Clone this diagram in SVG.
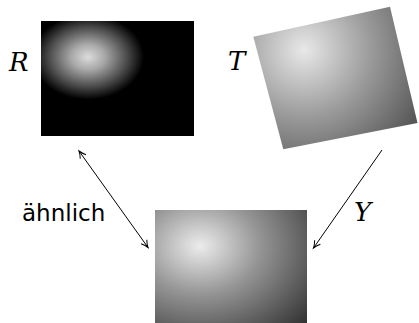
<svg xmlns="http://www.w3.org/2000/svg" width="419" height="323" viewBox="0 0 419 323">
<style>
.math{font-family:'DejaVu Serif',serif;font-style:italic;font-size:26px;fill:#000}
.txt{font-family:'DejaVu Sans',sans-serif;font-size:23px;fill:#000}
.conn{stroke:#000;stroke-width:1;fill:none}
</style>
<defs>
<marker id="ah" viewBox="-8 -5 10 10" refX="0" refY="0" markerWidth="10" markerHeight="10" markerUnits="userSpaceOnUse" orient="auto-start-reverse">
<path d="M -7 -3.5 Q -3 -0.8 0 0 Q -3 0.8 -7 3.5" stroke="#000" stroke-width="1" fill="none"/>
</marker>
<radialGradient id="gR" gradientUnits="userSpaceOnUse" cx="88" cy="57" r="56" gradientTransform="translate(88 57) scale(1 0.76) translate(-88 -57)">
<stop offset="0" stop-color="#dcdcdc"/>
<stop offset="0.3" stop-color="#a8a8a8"/>
<stop offset="0.7" stop-color="#4a4a4a"/>
<stop offset="1" stop-color="#000"/>
</radialGradient>
<radialGradient id="gT" gradientUnits="userSpaceOnUse" cx="304" cy="50" r="150">
<stop offset="0" stop-color="#e8e8e8"/>
<stop offset="0.45" stop-color="#9a9a9a"/>
<stop offset="1" stop-color="#444"/>
</radialGradient>
<radialGradient id="gY" gradientUnits="userSpaceOnUse" cx="200" cy="246" r="150" gradientTransform="translate(200 246) scale(1 0.8) translate(-200 -246)">
<stop offset="0" stop-color="#ececec"/>
<stop offset="0.4" stop-color="#959595"/>
<stop offset="1" stop-color="#2a2a2a"/>
</radialGradient>
</defs>
<g id="nodeR">
<rect x="41" y="21" width="153" height="115" fill="#000"/>
<rect x="41" y="21" width="153" height="115" fill="url(#gR)"/>
<text class="math" x="9" y="71">R</text>
</g>
<g id="nodeT">
<polygon points="253.3,36.7 390,6.7 417.5,123 283.3,149.3" fill="url(#gT)"/>
<text class="math" x="228" y="70">T</text>
</g>
<g id="nodeBottom">
<rect x="155" y="210" width="152" height="113" fill="url(#gY)"/>
</g>
<g id="connectors">
<line class="conn" x1="79" y1="151" x2="148" y2="247.5" marker-start="url(#ah)" marker-end="url(#ah)"/>
<line class="conn" x1="382" y1="150" x2="313.5" y2="248" marker-end="url(#ah)"/>
<text class="txt" x="22" y="221">ähnlich</text>
<text class="math" x="354" y="221">Y</text>
</g>
</svg>
